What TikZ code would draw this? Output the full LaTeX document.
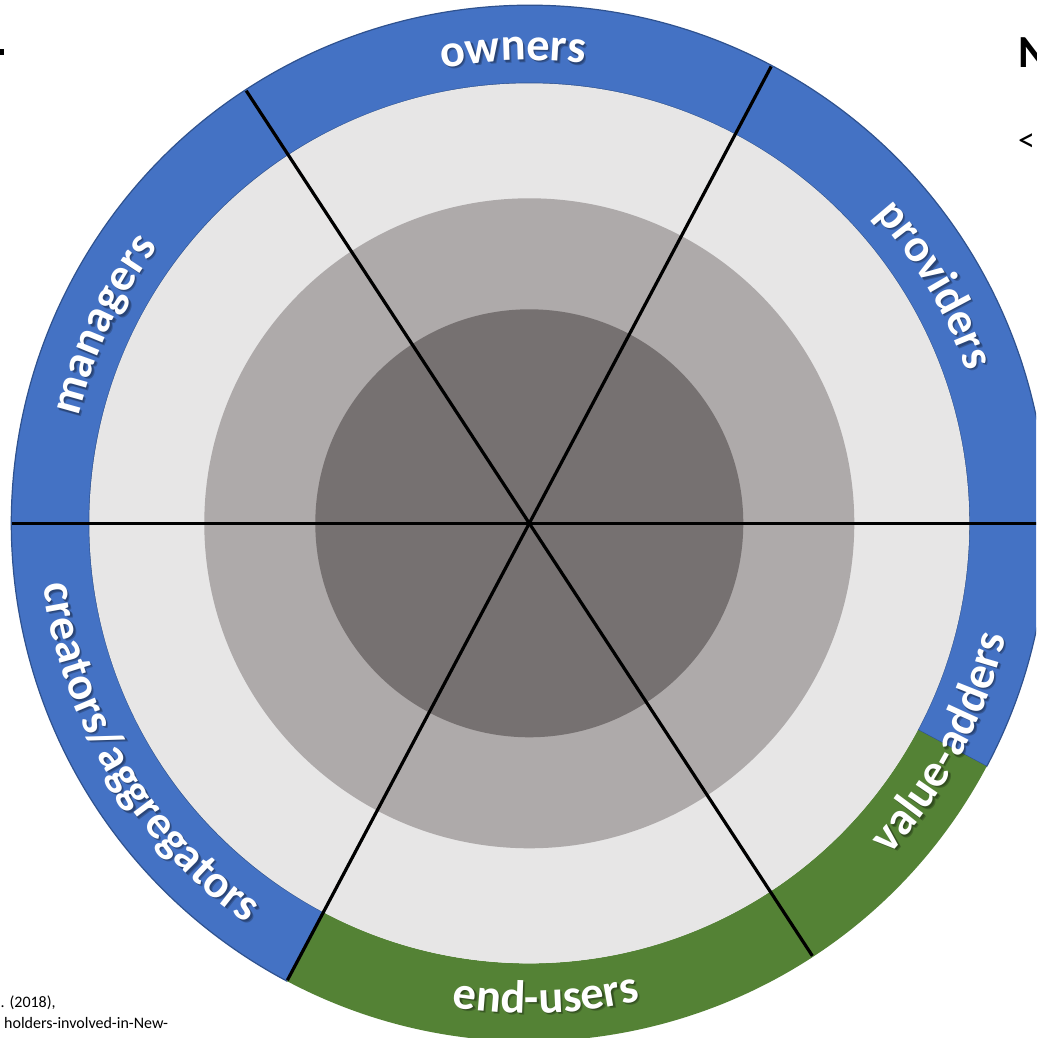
\documentclass[tikz,border=0pt]{standalone}
\usepackage{fontspec}
\setmainfont{Carlito}
\usetikzlibrary{decorations.text}

\definecolor{ringblue}{HTML}{4472C4}
\definecolor{ringedge}{HTML}{2F528F}
\definecolor{ringgreen}{HTML}{548235}
\definecolor{discA}{HTML}{E7E6E6}
\definecolor{discB}{HTML}{AEAAAA}
\definecolor{discC}{HTML}{767171}

\newcommand\ringfont{\fontsize{46.5pt}{50pt}\selectfont\bfseries}

\tikzset{
  ringlabel/.style={decorate, decoration={text along path, text align=center,
      text color=white, text={|\ringfont|#1}}},
  ringshadow/.style={decorate, decoration={text along path, text align=center,
      text color=black, text={|\ringfont|#1}}},
  spoke/.style={draw=black, line width=3.2pt},
  cropped/.style={anchor=base west, inner sep=0pt, text=black},
}

% #1 centre angle, #2 baseline radius, #3 half span (positive: clockwise), #4 text
\newcommand\bandlabel[4]{%
  \begin{scope}[opacity=0.22]
    \path[ringshadow={#4}, shift={(2.4,-2.4)}]
      ({#1+#3}:#2) arc[start angle={#1+#3}, end angle={#1-#3}, radius=#2];
    \path[ringshadow={#4}, shift={(1.4,-1.4)}]
      ({#1+#3}:#2) arc[start angle={#1+#3}, end angle={#1-#3}, radius=#2];
  \end{scope}
  \path[ringlabel={#4}]
    ({#1+#3}:#2) arc[start angle={#1+#3}, end angle={#1-#3}, radius=#2];
}

\begin{document}
\begin{tikzpicture}[x=1pt, y=1pt]
  \useasboundingbox (-529.3,-514.7) rectangle (506.7,523.3);
  \clip (-529.3,-514.7) rectangle (506.7,523.3);
  \fill[white] (-529.3,-514.7) rectangle (506.7,523.3);

  \coordinate (hub) at (0,0);

  % outer band: blue part and green part
  \filldraw[fill=ringblue, draw=ringedge, line width=1.2pt]
    (332:518) arc[start angle=332, end angle=602.1, radius=518]
    -- (602.1:440) arc[start angle=602.1, end angle=332, radius=440] -- cycle;
  \fill[ringgreen]
    (242.1:518) arc[start angle=242.1, end angle=332, radius=518]
    -- (332:440) arc[start angle=332, end angle=242.1, radius=440] -- cycle;

  % inner discs
  \fill[discA] (hub) circle[radius=440];
  \fill[discB] (hub) circle[radius=325];
  \fill[discC] (hub) circle[radius=214];

  % spokes
  \foreach \a in {0, 62.1, 123.2}
    \draw[spoke] (\a:517) -- (hub) -- (\a+180:517);

  % band labels
  \bandlabel{92}{463}{32}{owners}
  \bandlabel{30.5}{463}{32}{providers}
  \bandlabel{155}{463}{32}{managers}
  \bandlabel{211}{490}{-32}{creators/aggregators}
  \bandlabel{272}{490}{-32}{end-users}
  \bandlabel{332}{490}{-32}{value-adders}

  % text running past the edges
  \fill[black] (-529.3,474.3) rectangle (-525.3,468.3);
  \node[cropped, font=\fontsize{46pt}{50pt}\selectfont\bfseries] (title) at (489,455.3) {N};
  \node[cropped, font=\fontsize{34pt}{40pt}\selectfont] (link) at (488.5,371.3) {<};
  \node[cropped, font=\fontsize{16pt}{20pt}\selectfont] (srcA) at (-528.8,-484.2) {. (2018),};
  \node[cropped, font=\fontsize{16pt}{20pt}\selectfont] (srcB) at (-525.3,-505.2) {holders-involved-in-New-};
\end{tikzpicture}
\end{document}
